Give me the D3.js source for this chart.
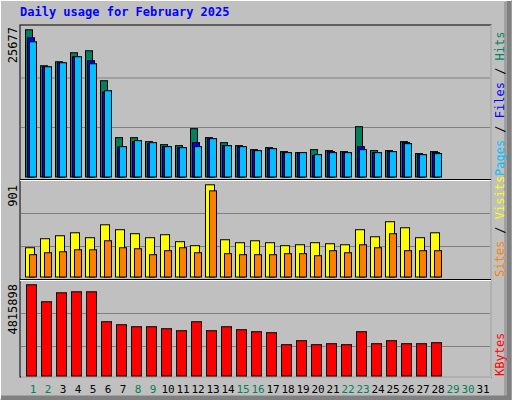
<!DOCTYPE html><html><head><script src="https://cdn.jsdelivr.net/npm/d3@7"></script>
<style>body{margin:0;background:#fff}</style></head><body><svg id="c" width="512" height="400"></svg>
<script>
const days = d3.range(1, 32);
const hits = [25677,19406,20103,21670,22019,16793,6863,6863,6167,5644,5470,8431,6863,5992,5470,4773,5121,4425,4250,4773,4599,4425,8780,4599,4599,6167,4076,4425];
const files = [24283,19232,19928,20974,20277,14807,5226,6167,5818,5296,5121,5992,6689,5470,5296,4599,4947,4250,4250,3728,4425,4250,5296,4250,4425,5992,3902,4250];
const pages = [23587,19232,19928,20974,19754,15051,5296,6341,5992,5296,5121,5296,6689,5470,5296,4599,4947,4250,4250,3902,4250,4250,4773,4250,4425,5818,3902,4076];
const visits = [286,374,403,432,384,510,462,423,384,413,345,306,901,364,335,354,335,306,315,335,325,315,462,393,540,481,384,432];
const sites = [218,237,247,266,266,354,286,276,218,257,286,237,842,228,218,218,218,228,228,208,257,237,315,286,423,257,257,257];
const kbytes = [4815898,3919700,4394000,4447000,4447000,2865000,2706600,2601000,2601000,2495600,2390600,2865000,2390600,2601000,2443100,2337700,2285200,1652400,1863300,1652400,1704800,1652400,2337700,1704800,1863300,1704800,1704800,1757800];
const weekend = [1,2,8,9,15,16,22,23,29,30];

const svg = d3.select("#c");
const F = "DejaVu Sans Mono, monospace";
// outer frame
svg.append("rect").attr("x",0).attr("y",0).attr("width",512).attr("height",400).attr("fill","#c0c0c0");
svg.append("path").attr("d","M0,399V0H511").attr("stroke","#fff").attr("stroke-width",2).attr("fill","none");
svg.append("path").attr("d","M2,397H505V2").attr("stroke","#808080").attr("stroke-width",1).attr("fill","none");
svg.append("path").attr("d","M1,398H509V1").attr("stroke","#808080").attr("stroke-width",5).attr("fill","none");
svg.append("text").attr("x",20).attr("y",16).attr("font-family",F).attr("font-weight","bold").attr("font-size",12).attr("fill","#0000ff").text("Daily usage for February 2025");

// plot frame
svg.append("rect").attr("x",20).attr("y",25).attr("width",471).attr("height",352).attr("fill","none").attr("stroke","#000");
svg.append("path").attr("d","M21,377H491V25").attr("stroke","#fff").attr("fill","none");
svg.append("line").attr("x1",20).attr("x2",491).attr("y1",179.5).attr("y2",179.5).attr("stroke","#000");
svg.append("line").attr("x1",20).attr("x2",491).attr("y1",180.5).attr("y2",180.5).attr("stroke","#fff");
svg.append("line").attr("x1",20).attr("x2",491).attr("y1",279.5).attr("y2",279.5).attr("stroke","#000");
svg.append("line").attr("x1",20).attr("x2",491).attr("y1",280.5).attr("y2",280.5).attr("stroke","#fff");

const x = d3.scaleLinear().domain([1,2]).range([25,40]);

function panel(bottom, top, max, grids, series) {
  const y = d3.scaleLinear().domain([0,max]).range([bottom, top]);
  grids.forEach(g => svg.append("line").attr("x1",21).attr("x2",490).attr("y1",g).attr("y2",g).attr("stroke","#808080"));
  series.forEach(s => {
    svg.append("g").selectAll("rect").data(s.data).join("rect")
      .attr("x",(d,i)=>x(i+1)+s.off+0.5).attr("y",d=>y(d)+0.5)
      .attr("width",s.w).attr("height",d=>bottom-y(d))
      .attr("fill",s.c).attr("stroke","#000");
  });
  return y;
}
panel(176.5, 29.3, 25677, [78, 127.5], [
  {data:hits,c:"#00805c",off:0,w:7},{data:files,c:"#0000ff",off:2,w:7},{data:pages,c:"#00c0ff",off:4,w:7}]);
panel(276.5, 184.3, 901, [213.5, 246.5], [
  {data:visits,c:"#ffff00",off:0,w:9},{data:sites,c:"#ff8000",off:4,w:7}]);
panel(375.5, 284.3, 4815898, [313.5, 346.5], [
  {data:kbytes,c:"#ff0000",off:1,w:10}]);

function vlabel(xp, yp, txt, anchor, col) {
  svg.append("text").attr("transform",`translate(${xp},${yp}) rotate(-90)`).attr("text-anchor",anchor)
    .attr("font-family",F).attr("font-size",12).attr("fill",col).text(txt);
}
vlabel(17, 27, "25677", "end", "#000");
vlabel(17, 185, "901", "end", "#000");
vlabel(17, 284, "4815898", "end", "#000");

function rlabel(yp, parts) {
  const t = svg.append("text").attr("transform",`translate(504,${yp}) rotate(-90)`).attr("text-anchor","start")
    .attr("font-family",F).attr("font-size",12);
  parts.forEach(p => t.append("tspan").attr("fill",p[1]).text(p[0]));
}
rlabel(176, [["Pages","#00c0ff"],[" / ","#000"],["Files","#0000ff"],[" / ","#000"],["Hits","#00805c"]]);
rlabel(277, [["Sites","#ff8000"],[" / ","#000"],["Visits","#ffff00"]]);
rlabel(376, [["KBytes","#ff0000"]]);

svg.append("g").selectAll("text").data(days).join("text")
  .attr("x",d=>x(d)+8).attr("y",393).attr("text-anchor","middle")
  .attr("font-family",F).attr("font-size",11)
  .attr("fill",d=>weekend.includes(d)?"#00805c":"#000").text(d=>d);
</script></body></html>
